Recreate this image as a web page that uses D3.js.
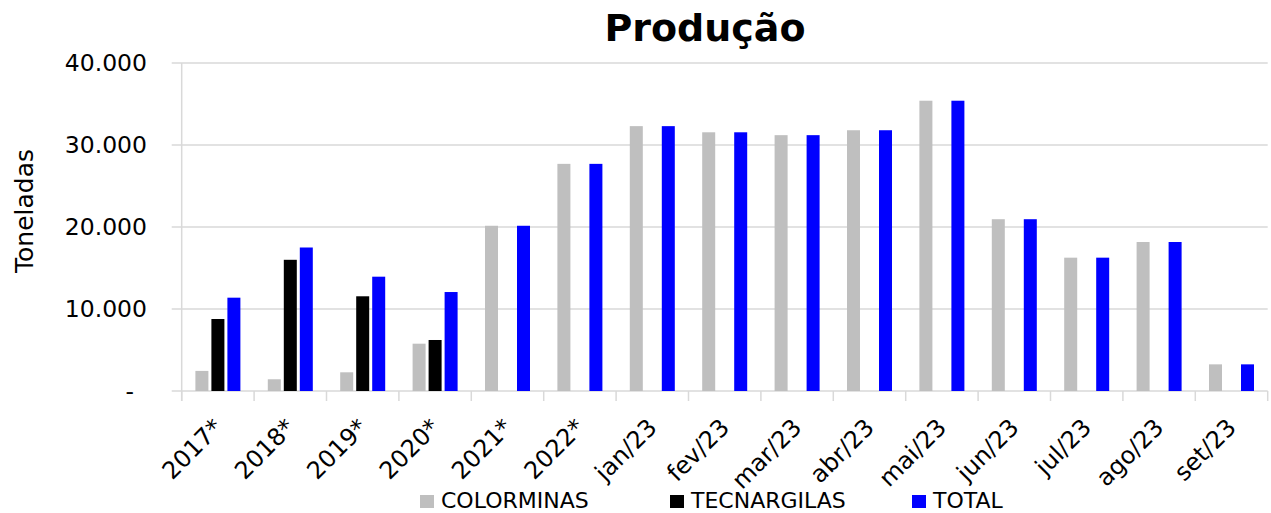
<html>
<style>
  body { margin: 0; background: #fff; }
  text { font-family: "DejaVu Sans", sans-serif; fill: #000; }
</style>
<body>
<script src="https://cdn.jsdelivr.net/npm/d3@7"></script>
<svg id="chart" width="1271" height="513"></svg>
<script>
// categories and values
var categories = ["2017*", "2018*", "2019*", "2020*", "2021*", "2022*", "jan/23", "fev/23", "mar/23", "abr/23", "mai/23", "jun/23", "jul/23", "ago/23", "set/23"];
var colorminas  = [2450, 1430, 2280, 5770, 20150, 27700, 32300, 31550, 31200, 31800, 35400, 20950, 16260, 18170, 3250];
var tecnargilas = [8780, 16000, 11550, 6220, 0, 0, 0, 0, 0, 0, 0, 0, 0, 0, 0];
var total       = [11380, 17500, 13940, 12070, 20150, 27700, 32300, 31550, 31200, 31800, 35400, 20950, 16260, 18170, 3250];
var seriesNames = ["COLORMINAS", "TECNARGILAS", "TOTAL"];
var seriesColors = ["#bfbfbf", "#000000", "#0000ff"];
var yTicks = [0, 10000, 20000, 30000, 40000];

var svg = d3.select("#chart");
var plotLeft = 181.7, plotRight = 1267.7, plotTop = 63, plotBottom = 391;

var x = d3.scaleBand().domain(categories).range([plotLeft, plotRight]).padding(0);
var x1 = d3.scaleBand().domain(seriesNames).range([0, 45]).paddingInner(0.1875).paddingOuter(0);
var y = d3.scaleLinear().domain([0, 40000]).range([plotBottom, plotTop]);

var br = d3.formatLocale({ decimal: ",", thousands: ".", grouping: [3], currency: ["", ""] });
var fmt = br.format(",");

// gridlines
svg.append("g").selectAll("line").data(yTicks).enter().append("line")
  .attr("x1", plotLeft - 10).attr("x2", plotRight)
  .attr("y1", function(d) { return y(d); }).attr("y2", function(d) { return y(d); })
  .attr("stroke", "#d9d9d9").attr("stroke-width", 1.5);

// y axis line
svg.append("line").attr("x1", plotLeft).attr("x2", plotLeft).attr("y1", plotTop).attr("y2", plotBottom + 10)
  .attr("stroke", "#d9d9d9").attr("stroke-width", 1.5);

// x category ticks
var bounds = categories.map(function(c) { return x(c); }).concat([plotRight]);
svg.append("g").selectAll("line").data(bounds).enter().append("line")
  .attr("x1", function(d) { return d; }).attr("x2", function(d) { return d; })
  .attr("y1", plotBottom).attr("y2", plotBottom + 10)
  .attr("stroke", "#d9d9d9").attr("stroke-width", 1.5);

// bars
var table = categories.map(function(c, i) {
  return { cat: c, vals: [colorminas[i], tecnargilas[i], total[i]] };
});
var off = (x.bandwidth() - 45) / 2;
var groups = svg.append("g").selectAll("g").data(table).enter().append("g")
  .attr("transform", function(d) { return "translate(" + (x(d.cat) + off) + ",0)"; });
groups.selectAll("rect")
  .data(function(d) { return d.vals.map(function(v, j) { return { s: seriesNames[j], v: v, c: seriesColors[j] }; }).filter(function(e) { return e.v > 0; }); })
  .enter().append("rect")
  .attr("x", function(e) { return x1(e.s); })
  .attr("width", x1.bandwidth())
  .attr("y", function(e) { return y(e.v); })
  .attr("height", function(e) { return plotBottom - y(e.v); })
  .attr("fill", function(e) { return e.c; });

// y tick labels
svg.append("g").selectAll("text").data(yTicks).enter().append("text")
  .attr("x", function(d) { return d === 0 ? 134 : 147; })
  .attr("y", function(d) { return y(d); })
  .attr("dy", "0.36em")
  .attr("text-anchor", "end")
  .style("font-size", "23.5px")
  .text(function(d) { return d === 0 ? "-" : fmt(d); });

// x tick labels
svg.append("g").selectAll("text").data(categories).enter().append("text")
  .attr("transform", function(d) { return "translate(" + (x(d) + x.bandwidth() / 2 + 6) + "," + (plotBottom + 38) + ") rotate(-45)"; })
  .attr("text-anchor", "end")
  .style("font-size", "24px")
  .text(function(d) { return d; });

// title
svg.append("text").attr("x", 705).attr("y", 41).attr("text-anchor", "middle")
  .style("font-size", "38px").style("font-weight", "bold").text("Produção");

// y label
svg.append("text").attr("transform", "translate(33,211) rotate(-90)").attr("text-anchor", "middle")
  .style("font-size", "25px").text("Toneladas");

// legend
var legendX = [420, 670, 912];
var lg = svg.append("g").selectAll("g").data(seriesNames).enter().append("g")
  .attr("transform", function(d, i) { return "translate(" + legendX[i] + ",0)"; });
lg.append("rect").attr("x", 0).attr("y", 495).attr("width", 14).attr("height", 13)
  .attr("fill", function(d, i) { return seriesColors[i]; });
lg.append("text").attr("x", 21).attr("y", 507.5).style("font-size", "22px").text(function(d) { return d; });
</script>
</body>
</html>
